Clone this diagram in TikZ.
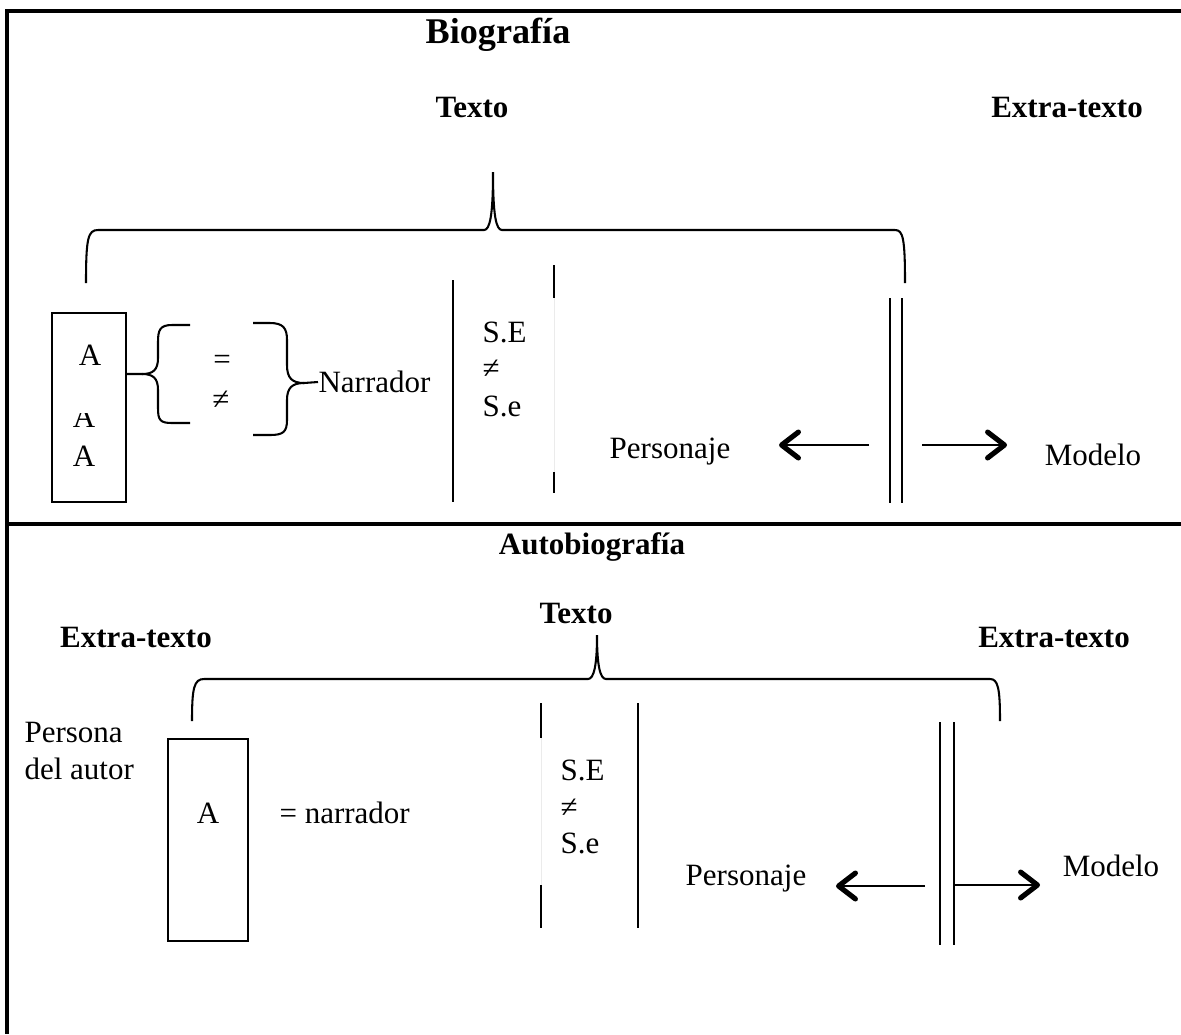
\documentclass[tikz,border=0pt]{standalone}
\usepackage{fontspec}
\setmainfont{Liberation Serif}
\usepackage{tikz}
\usetikzlibrary{arrows.meta}

\begin{document}
\begin{tikzpicture}[x=0.387pt, y=-0.387pt,
  borde/.style={line width=1.2pt},
  raya/.style={line width=0.8pt},
  fina/.style={line width=0.5pt},
  flecha/.style={line width=0.9pt, -{Straight Barb[length=6.5pt,width=10pt,line width=2pt,round]}},
  titulo/.style={font=\fontsize{12}{14}\selectfont\bfseries, inner sep=0pt},
  txt/.style={font=\fontsize{12}{14}\selectfont, inner sep=0pt}]

\useasboundingbox (0,0) rectangle (1181,1034);

% marco
\draw[borde] (1181,11) -- (7,11) -- (7,1034);
\draw[borde] (7,524) -- (1181,524);

% ---- Biografia ----
\node[titulo, font=\fontsize{14}{16}\selectfont\bfseries] (bio) at (498,35) {Biografía};
\node[titulo] (texto1) at (472,107) {Texto};
\node[titulo] (extra1) at (1067,107) {Extra-texto};

\coordinate (punta1) at (493,172);
\draw[raya] (86,283) .. controls (86,238) and (88,230) .. (98,230) -- (484,230)
  .. controls (490,230) and (493,215) .. (punta1)
  .. controls (493,215) and (496,230) .. (502,230) -- (895,230)
  .. controls (903,230) and (905,238) .. (905,283);

\draw[fina] (52,313) rectangle (126,502);
\coordinate (cajaE) at (126,374);
\node[txt] (a1) at (90,355) {A};
\begin{scope}
\clip (53,413) rectangle (125,440);
\node[txt] (a2) at (84,417) {A};
\end{scope}
\node[txt] (a3) at (84,456) {A};

\node[txt] (igual) at (222,362) {=};
\node[txt] (dist) at (221,400) {≠};
\node[txt, anchor=west] (narr) at (318,382) {Narrador};

\draw[raya] (190,325) -- (172,325) .. controls (160,325) and (158,330) .. (158,342) -- (158,358)
  .. controls (158,370) and (153,374) .. (142,374) -- (cajaE);
\draw[raya] (142,374) .. controls (153,374) and (158,378) .. (158,390) -- (158,408)
  .. controls (158,420) and (160,423) .. (172,423) -- (190,423);

\draw[raya] (253,323) -- (270,323) .. controls (283,323) and (287,328) .. (287,340) -- (287,365)
  .. controls (287,378) and (292,383) .. (304,383) -- (narr.west);
\draw[raya] (304,383) .. controls (292,383) and (287,388) .. (287,400) -- (287,420)
  .. controls (287,432) and (283,435) .. (270,435) -- (253,435);

\draw[line width=1pt] (453,280) -- (453,502);
\draw[raya] (554,265) -- (554,298);
\draw[raya] (554,472) -- (554,493);
\draw[line width=0.2pt, black!8] (554,298) -- (554,472);

\node[txt, anchor=west] (se1) at (482,332) {S.E};
\node[txt, anchor=west] (ne1) at (482,369) {≠};
\node[txt, anchor=west] (sm1) at (482,406) {S.e};

\node[txt] (pers1) at (670,452) {Personaje};
\node[txt] (mod1) at (1093,455) {Modelo};

\draw[fina] (890,298) -- (890,503);
\draw[fina] (902,298) -- (902,503);
\coordinate (izq1) at (869,445);
\coordinate (der1) at (922,445);
\draw[flecha] (izq1) -- (779,445);
\draw[flecha] (der1) -- (1007,445);

% ---- Autobiografia ----
\node[titulo] (autobio) at (592,547) {Autobiografía};
\node[titulo] (texto2) at (576,613) {Texto};
\node[titulo] (extra2a) at (136,637) {Extra-texto};
\node[titulo] (extra2b) at (1054,637) {Extra-texto};

\coordinate (punta2) at (597,635);
\draw[raya] (192,721) .. controls (192,688) and (194,679) .. (204,679) -- (588,679)
  .. controls (594,679) and (597,665) .. (punta2)
  .. controls (597,665) and (600,679) .. (606,679) -- (990,679)
  .. controls (998,679) and (1000,688) .. (1000,721);

\node[txt, anchor=north west, align=left, font=\fontsize{12}{14}\selectfont] (persona) at (24,722) {Persona\\del autor};

\draw[fina] (168,739) rectangle (248,941);
\node[txt] (a4) at (208,813) {A};
\node[txt, anchor=west] (narr2) at (279,813) {= narrador};

\draw[raya] (541,703) -- (541,738);
\draw[raya] (541,885) -- (541,928);
\draw[line width=0.2pt, black!8] (541,738) -- (541,885);
\draw[raya] (638,703) -- (638,928);

\node[txt, anchor=west] (se2) at (560,770) {S.E};
\node[txt, anchor=west] (ne2) at (560,808) {≠};
\node[txt, anchor=west] (sm2) at (560,843) {S.e};

\node[txt] (pers2) at (746,879) {Personaje};
\node[txt] (mod2) at (1111,866) {Modelo};

\draw[fina] (940,722) -- (940,945);
\draw[fina] (954,722) -- (954,945);
\coordinate (izq2) at (925,886);
\coordinate (der2) at (954,885);
\draw[flecha] (izq2) -- (836,886);
\draw[flecha] (der2) -- (1040,885);

\end{tikzpicture}
\end{document}
